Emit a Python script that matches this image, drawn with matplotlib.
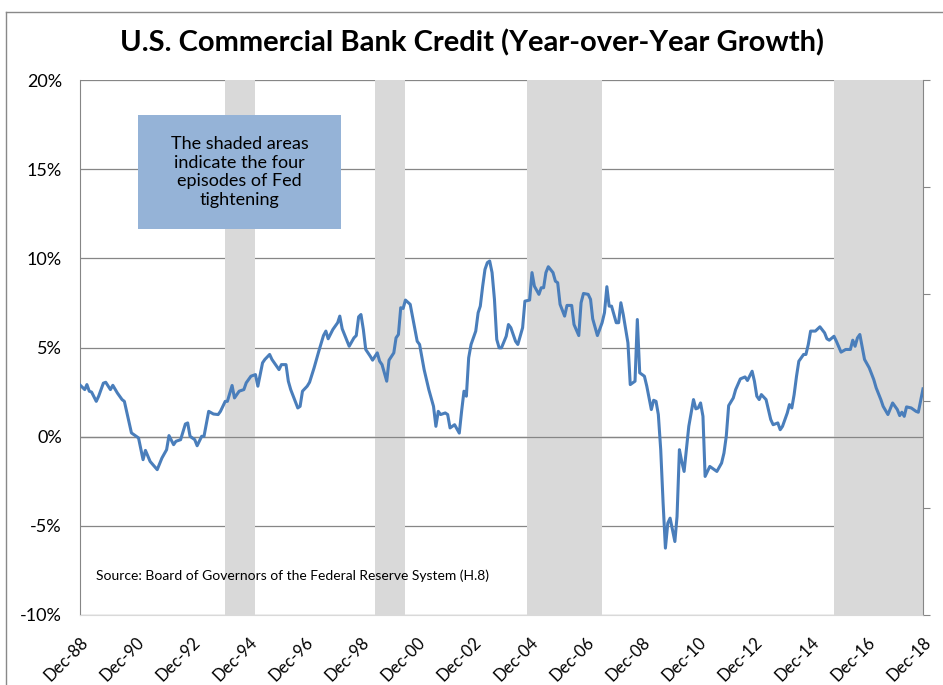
import matplotlib
matplotlib.use("Agg")
import matplotlib.pyplot as plt
from matplotlib.patches import Rectangle
from matplotlib.lines import Line2D
import pandas as pd

plt.rcParams['font.family'] = ['Lato', 'DejaVu Sans']

# year-over-year growth (%)
dates = [
    "1988-12", "1989-02", "1989-03", "1989-04", "1989-05", "1989-07", "1989-08", "1989-10", "1989-11",
    "1990-01", "1990-02", "1990-04", "1990-06", "1990-07", "1990-09", "1990-10",
    "1991-01", "1991-03", "1991-04", "1991-06", "1991-09", "1991-11",
    "1992-01", "1992-02", "1992-04", "1992-05", "1992-07", "1992-09", "1992-10", "1992-11",
    "1993-01", "1993-02", "1993-04", "1993-05", "1993-07", "1993-09", "1993-11", "1993-12",
    "1994-02", "1994-03", "1994-05", "1994-06", "1994-08", "1994-10", "1994-11",
    "1995-01", "1995-03", "1995-04", "1995-06", "1995-07", "1995-09", "1995-10",
    "1996-01", "1996-02", "1996-04", "1996-05", "1996-06", "1996-09", "1996-10", "1996-11",
    "1997-01", "1997-02", "1997-04", "1997-06", "1997-08", "1997-09", "1997-10", "1997-12",
    "1998-02", "1998-03", "1998-04", "1998-07", "1998-09", "1998-10", "1998-11", "1998-12",
    "1999-01", "1999-02", "1999-04", "1999-05", "1999-07", "1999-08", "1999-09", "1999-11", "1999-12",
    "2000-02", "2000-03", "2000-04", "2000-05", "2000-06", "2000-07", "2000-09", "2000-11", "2000-12",
    "2001-01", "2001-03", "2001-05", "2001-07", "2001-08", "2001-09", "2001-10", "2001-12",
    "2002-01", "2002-02", "2002-04", "2002-06", "2002-07", "2002-08", "2002-09", "2002-10", "2002-11",
    "2003-01", "2003-02", "2003-03", "2003-04", "2003-05", "2003-06", "2003-07", "2003-08",
    "2003-09", "2003-10", "2003-11", "2003-12",
    "2004-02", "2004-03", "2004-04", "2004-06", "2004-07", "2004-09", "2004-10", "2004-12",
    "2005-01", "2005-02", "2005-04", "2005-05", "2005-06", "2005-07", "2005-08", "2005-10", "2005-11", "2005-12",
    "2006-01", "2006-03", "2006-04", "2006-06", "2006-07", "2006-09", "2006-10", "2006-11",
    "2007-01", "2007-02", "2007-03", "2007-05", "2007-07", "2007-08", "2007-09", "2007-10", "2007-11",
    "2008-01", "2008-02", "2008-03", "2008-04", "2008-06", "2008-07", "2008-09", "2008-10", "2008-11",
    "2009-01", "2009-02", "2009-04", "2009-05", "2009-06", "2009-07", "2009-08", "2009-09",
    "2009-10", "2009-11", "2009-12",
    "2010-01", "2010-02", "2010-03", "2010-04", "2010-05", "2010-06", "2010-07", "2010-08",
    "2010-10", "2010-11", "2010-12",
    "2011-01", "2011-02", "2011-03", "2011-05", "2011-08", "2011-10", "2011-11", "2011-12",
    "2012-01", "2012-03", "2012-04", "2012-06", "2012-08", "2012-09", "2012-11", "2012-12",
    "2013-01", "2013-02", "2013-03", "2013-05", "2013-07", "2013-08", "2013-10", "2013-11", "2013-12",
    "2014-02", "2014-03", "2014-04", "2014-05", "2014-06", "2014-07", "2014-09", "2014-10", "2014-11", "2014-12",
    "2015-02", "2015-04", "2015-06", "2015-07", "2015-08", "2015-10", "2015-11",
    "2016-01", "2016-03", "2016-05", "2016-06", "2016-07", "2016-08", "2016-09", "2016-11",
    "2017-01", "2017-03", "2017-04", "2017-06", "2017-07", "2017-09", "2017-11",
    "2018-01", "2018-02", "2018-03", "2018-04", "2018-05", "2018-07", "2018-09", "2018-10", "2018-12",
]
growth = [
    2.9, 2.64, 2.92, 2.55, 2.5, 1.98, 2.27, 3.0, 3.05,
    2.64, 2.88, 2.45, 2.08, 1.98, 0.77, 0.21,
    -0.07, -1.29, -0.77, -1.39, -1.85, -1.2,
    -0.73, 0.06, -0.45, -0.26, -0.17, 0.71, 0.77, 0.02,
    -0.17, -0.51, 0.02, 0.02, 1.42, 1.27, 1.24, 1.42,
    1.98, 1.98, 2.87, 2.17, 2.55, 2.64, 3.02,
    3.39, 3.48, 2.83, 4.14, 4.33, 4.61, 4.33,
    3.76, 4.04, 4.04, 3.11, 2.64, 1.61, 1.7, 2.55,
    2.83, 3.05, 3.86, 4.79, 5.67, 5.92, 5.49, 6.01,
    6.39, 6.76, 6.05, 5.07, 5.54, 5.67, 6.72, 6.85,
    6.01, 4.89, 4.51, 4.29, 4.7, 4.23, 4.04, 3.11, 4.29,
    4.7, 5.54, 5.73, 7.23, 7.19, 7.66, 7.42, 6.01, 5.35,
    5.17, 3.76, 2.64, 1.7, 0.58, 1.42, 1.24, 1.33,
    1.24, 0.49, 0.67, 0.2, 1.42, 2.55, 2.27, 4.42, 5.17,
    5.92, 6.95, 7.32, 8.44, 9.38, 9.76, 9.85, 9.2,
    7.7, 5.45, 4.98, 4.98,
    5.63, 6.29, 6.11, 5.35, 5.17, 6.11, 7.6, 7.66,
    9.2, 8.44, 7.98, 8.35, 8.35, 9.2, 9.53, 9.2, 8.72, 8.63,
    7.42, 6.76, 7.36, 7.36, 6.29, 5.67, 7.51, 8.03,
    7.98, 7.7, 6.61, 5.67, 6.39, 6.95, 8.41, 7.32, 7.32,
    6.39, 6.39, 7.51, 6.85, 5.26, 2.92, 3.11, 6.57, 3.58,
    3.39, 2.83, 1.52, 2.04, 1.98, 1.24, -0.73, -3.72,
    -6.25, -4.85, -4.57,
    -5.22, -5.88, -4.48, -0.73, -1.39, -1.95, -0.73, 0.58,
    2.08, 1.56, 1.61,
    1.89, 1.14, -2.23, -1.67, -1.95, -1.48, -0.92, 0.02,
    1.74, 2.17, 2.64, 3.24, 3.35, 3.15, 3.67, 3.11,
    2.27, 2.08, 2.36, 2.08, 0.96, 0.67, 0.77, 0.39, 0.58,
    1.33, 1.8, 1.61, 2.36, 3.39, 4.23, 4.61, 4.61, 5.17, 5.92,
    5.92, 6.16, 5.82, 5.49, 5.41, 5.63, 5.35,
    4.74, 4.89, 4.89, 5.41, 5.07, 5.54, 5.73, 4.33,
    3.86, 3.2, 2.74, 2.08, 1.7, 1.24, 1.89,
    1.52, 1.18, 1.37, 1.14, 1.67, 1.61, 1.42, 1.37, 2.68,
]

# Fed tightening episodes (shaded)
tight_start = ["1994-02", "1999-06", "2004-11", "2015-10"]
tight_end = ["1995-03", "2000-07", "2007-07", "2018-12"]

y_ticks = [-10, -5, 0, 5, 10, 15, 20]
x_first, x_last = "1988-12", "2018-12"

fig = plt.figure(figsize=(9.43, 6.85), dpi=100)
ax = fig.add_axes([0.0848, 0.1022, 0.8940, 0.7810])

x = pd.to_datetime(dates)
ax.plot(x, growth, color='#4a7ebb', lw=2.2, zorder=4, solid_joinstyle='round')

for s, e in zip(tight_start, tight_end):
    ax.axvspan(pd.Timestamp(s), pd.Timestamp(e), color='#d9d9d9', lw=0, zorder=1)

ax.set_xlim(pd.Timestamp(x_first), pd.Timestamp(x_last))
ax.set_ylim(-10, 20)

ax.set_yticks(y_ticks)
ax.set_yticklabels([f"{t}%" for t in y_ticks], fontsize=13)
ax.yaxis.grid(True, color='#868686', lw=0.9)
ax.set_axisbelow(True)
ax.axhline(0, color='#868686', lw=0.9, zorder=2)

xt = pd.date_range(x_first, x_last, freq='24MS')
ax.set_xticks(xt)
ax.set_xticklabels([d.strftime('%b-%y') for d in xt], rotation=45, ha='right', va='top',
                   rotation_mode='anchor', fontsize=12)
ax.tick_params(axis='x', length=0, pad=14)
ax.tick_params(axis='y', length=0, pad=13)

for side in ['left', 'right']:
    ax.spines[side].set_color('#868686')
ax.spines['top'].set_visible(False)
ax.spines['bottom'].set_color('#d9d9d9')

# secondary axis: ticks only
ax2 = ax.twinx()
ax2.set_ylim(0, 5)
ax2.set_yticks(range(6))
ax2.set_yticklabels([])
ax2.tick_params(axis='y', direction='out', length=5, color='#868686')
for sp in ax2.spines.values():
    sp.set_visible(False)

ax.add_patch(Rectangle((0.0688, 0.7215), 0.2408, 0.2131, transform=ax.transAxes,
                       facecolor='#95b3d7', edgecolor='none', zorder=5))
ax.text(0.1892, 0.828, "The shaded areas\nindicate the four\nepisodes of Fed\ntightening",
        transform=ax.transAxes, ha='center', va='center', fontsize=13, linespacing=1.22, zorder=6)

ax.text(0.019, 0.065, "Source: Board of Governors of the Federal Reserve System (H.8)",
        transform=ax.transAxes, fontsize=10, zorder=6)

fig.text(0.5, 0.938, "U.S. Commercial Bank Credit (Year-over-Year Growth)", ha='center', va='center',
         fontsize=21, fontweight='bold')

fig.add_artist(Line2D([6 / 943, 6 / 943], [0, 1 - 12 / 685], color='#898989', lw=1))
fig.add_artist(Line2D([6 / 943, 1], [1 - 12 / 685, 1 - 12 / 685], color='#898989', lw=1))

fig.savefig('out.png', dpi=100)
